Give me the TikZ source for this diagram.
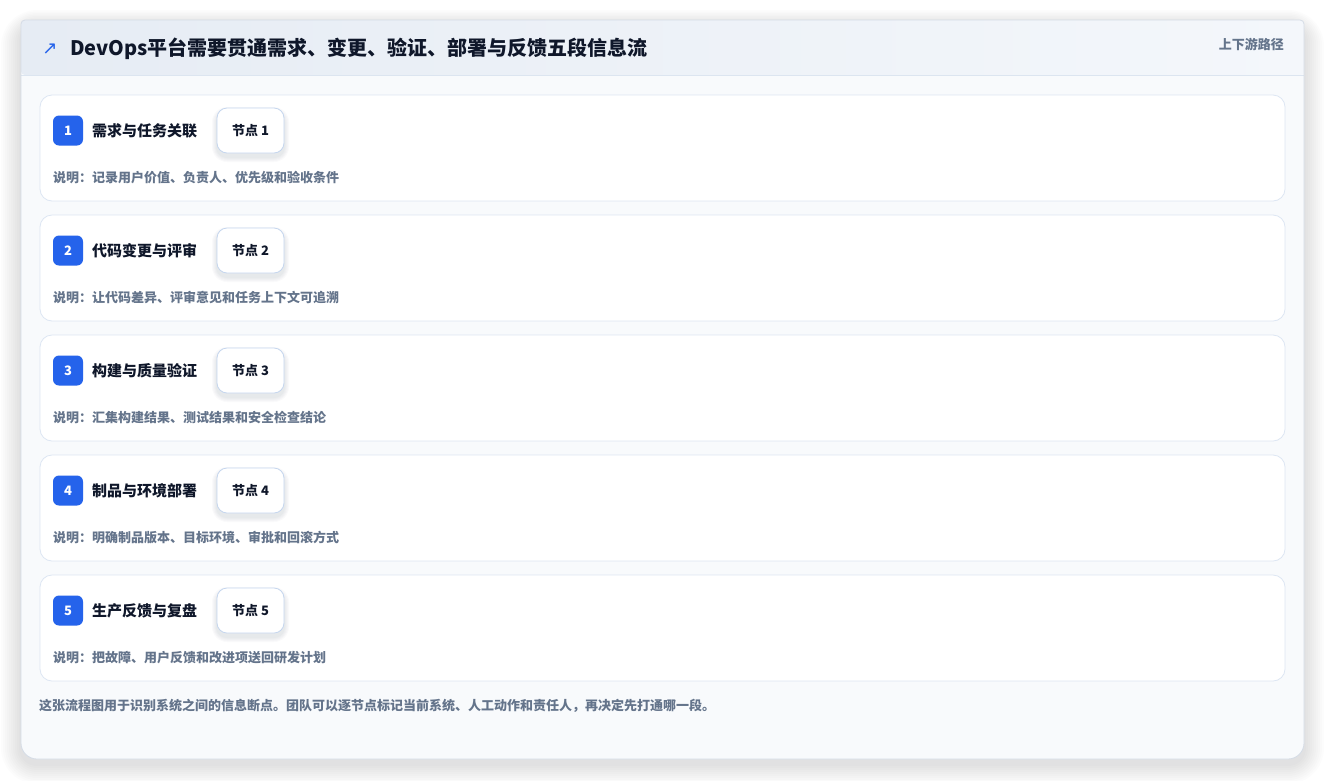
\documentclass[tikz,border=0pt]{standalone}
\usepackage{fontspec}
\setmainfont{Noto Sans CJK SC}
\newfontfamily\symfont{DejaVu Sans}
\definecolor{cardbg}{HTML}{F8FAFC}
\definecolor{cardline}{HTML}{D5DCE6}
\definecolor{headl}{HTML}{E6ECF4}
\definecolor{headr}{HTML}{F4F7FB}
\definecolor{headline}{HTML}{DCE5F0}
\definecolor{rowline}{HTML}{DDE6F3}
\definecolor{accent}{HTML}{2563EB}
\definecolor{ink}{HTML}{0F172A}
\definecolor{muted}{HTML}{64748B}
\definecolor{nodeline}{HTML}{C5D6EE}
\definecolor{shadowc}{HTML}{1E293B}
\tikzset{
  rowbox/.style={fill=white, draw=rowline, line width=0.8pt, rounded corners=12},
  badge/.style={fill=accent, rounded corners=6, minimum width=30pt, minimum height=30pt, inner sep=0pt, text=white, font=\bfseries\fontsize{13}{13}\selectfont},
  rowlabel/.style={anchor=west, inner sep=0pt, text=ink, font=\bfseries\fontsize{15}{17}\selectfont},
  stepnode/.style={fill=white, draw=nodeline, line width=0.8pt, rounded corners=10, minimum width=67pt, minimum height=45pt, inner sep=0pt, text=ink, font=\bfseries\fontsize{13}{15}\selectfont},
  desc/.style={anchor=west, inner sep=0pt, text=muted, font=\bfseries\fontsize{13}{15}\selectfont},
}
\begin{document}
\begin{tikzpicture}[x=1pt,y=-1pt]
\useasboundingbox (0,0) rectangle (1325,780);
\fill[white] (0,0) rectangle (1325,780);
% outer card shadow
\foreach \k in {1,...,10}{
  \fill[shadowc, opacity=0.012, rounded corners=16+\k*2] (21-\k*2,20-\k*1.5+5) rectangle (1304+\k*2,759+\k*2+5);
}
% outer card
\path[fill=cardbg]
  [rounded corners=4] (21,60) -- (21,20) -- (1304,20) -- (1304,60) [rounded corners=16] -- (1304,759) -- (21,759) -- cycle;
% header
\begin{scope}
\clip[rounded corners=4] (21,75) -- (21,20) -- (1304,20) -- (1304,75) -- cycle;
\shade[left color=headl, right color=headr] (21,20) rectangle (1304,75);
\end{scope}
\draw[headline, line width=0.8pt] (21,75) -- (1304,75);
\draw[cardline, line width=0.8pt]
  [rounded corners=4] (21,60) -- (21,20) -- (1304,20) -- (1304,60) [rounded corners=16] -- (1304,759) -- (21,759) -- cycle;
\node[text=accent, inner sep=0pt, font=\symfont\fontsize{18}{18}\selectfont] (icon) at (50,49) {↗};
\node[anchor=west, inner sep=0pt, text=ink, font=\bfseries\fontsize{20}{22}\selectfont] (title) at (70,49) {DevOps平台需要贯通需求、变更、验证、部署与反馈五段信息流};
\node[anchor=east, inner sep=0pt, text=muted, font=\bfseries\fontsize{13}{15}\selectfont] (tag) at (1284,44) {上下游路径};
% rows
\foreach \i/\lab/\dsc in {1/需求与任务关联/记录用户价值、负责人、优先级和验收条件,
                          2/代码变更与评审/让代码差异、评审意见和任务上下文可追溯,
                          3/构建与质量验证/汇集构建结果、测试结果和安全检查结论,
                          4/制品与环境部署/明确制品版本、目标环境、审批和回滚方式,
                          5/生产反馈与复盘/把故障、用户反馈和改进项送回研发计划}{
  \pgfmathsetmacro{\t}{95+120*(\i-1)}
  \draw[rowbox] (40,\t) rectangle (1285,\t+106);
  \node[badge] (badge\i) at (68,\t+35.5) {\i};
  \node[rowlabel] (label\i) at (92,\t+36) {\lab};
  \foreach \k in {1,...,5}{
    \fill[shadowc, opacity=0.018, rounded corners=10+\k] (217-\k,\t+13-\k+4) rectangle (284+\k,\t+58+\k+4);
  }
  \node[stepnode] (node\i) at (250.5,\t+35.5) {节点 \i};
  \node[desc] (desc\i) at (53,\t+83) {说明：\dsc};
}
\node[anchor=west, inner sep=0pt, text=muted, font=\bfseries\fontsize{13}{15}\selectfont] (foot) at (39,706) {这张流程图用于识别系统之间的信息断点。团队可以逐节点标记当前系统、人工动作和责任人，再决定先打通哪一段。};
\end{tikzpicture}
\end{document}
